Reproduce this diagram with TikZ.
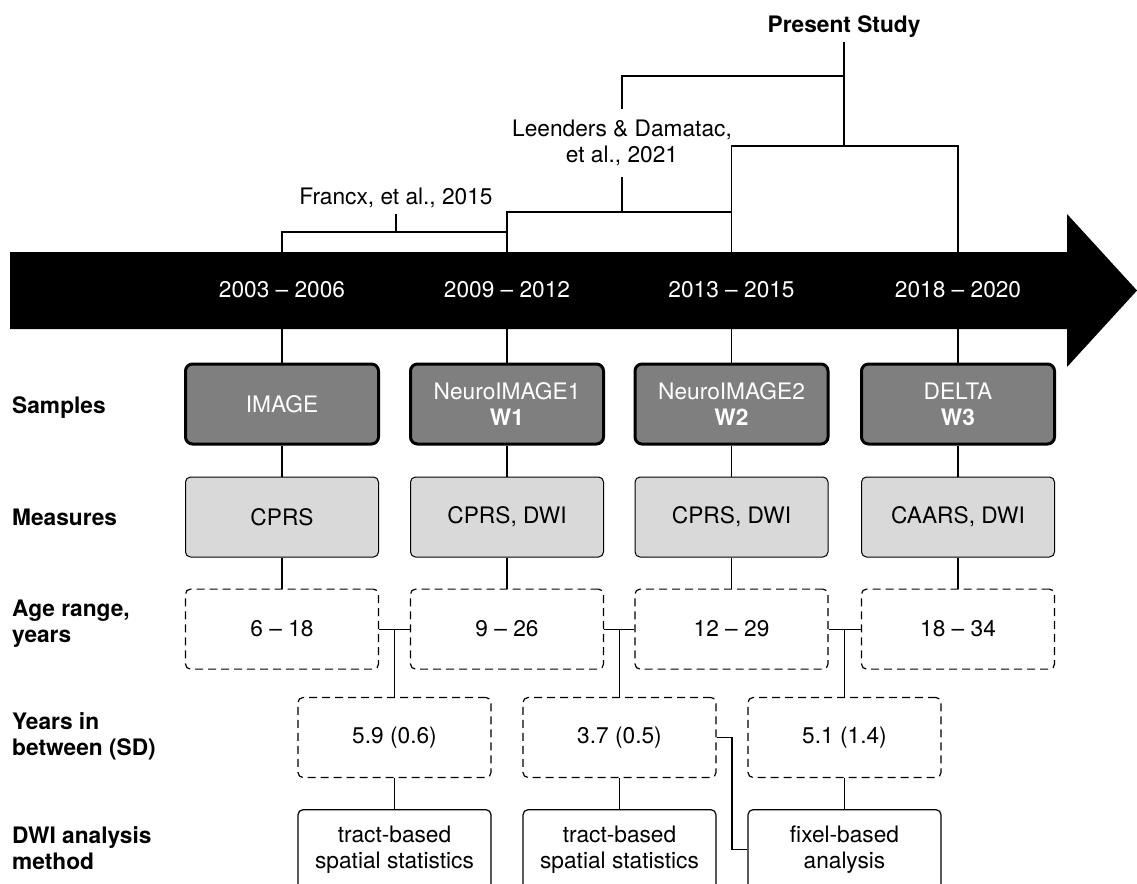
\documentclass[tikz,border=0pt]{standalone}
\usepackage{fontspec}
\setmainfont{TeX Gyre Heros}
\usepackage{xcolor}
\usepackage{tikz}
\usetikzlibrary{positioning}

\definecolor{samplegray}{HTML}{7F7F7F}
\definecolor{measuregray}{HTML}{D9D9D9}

\begin{document}
\begin{tikzpicture}[
  x=1pt,
  y=-1pt,
  node distance=31pt,
  font=\fontsize{22.7}{26}\selectfont,
  box/.style={
    minimum width=193pt,
    minimum height=80pt,
    rounded corners=5pt,
    inner sep=0pt,
    align=center
  },
  sample/.style={
    box,
    draw,
    line width=3pt,
    rounded corners=7pt,
    fill=samplegray,
    text=white
  },
  measure/.style={box, draw, line width=1pt, fill=measuregray},
  agebox/.style={box, draw, line width=1.2pt, dash pattern=on 8pt off 5pt, fill=white},
  method/.style={box, draw, line width=1.2pt, fill=white},
  rowlabel/.style={
    anchor=west,
    align=left,
    inner sep=0pt,
    font=\fontsize{22.7}{26}\selectfont\bfseries
  },
  datelbl/.style={text=white},
  reflbl/.style={align=center},
  conn/.style={line width=1.2pt}
]

\useasboundingbox (0,0) rectangle (1137,883);

% Samples
\node [sample] (s1) at (282,404) {IMAGE};
\node [sample] (s2) at (507,404) {NeuroIMAGE1\\\textbf{W1}};
\node [sample] (s3) at (731.5,404) {NeuroIMAGE2\\\textbf{W2}};
\node [sample] (s4) at (958,404) {DELTA\\\textbf{W3}};

% Measures
\node [measure, below=of s1] (m1) {CPRS};
\node [measure, below=of s2] (m2) {CPRS, DWI};
\node [measure, below=of s3] (m3) {CPRS, DWI};
\node [measure, below=of s4] (m4) {CAARS, DWI};

% Age ranges
\node [agebox, below=of m1] (a1) {6 – 18};
\node [agebox, below=of m2] (a2) {9 – 26};
\node [agebox, below=of m3] (a3) {12 – 29};
\node [agebox, below=of m4] (a4) {18 – 34};

% Years in between
\node [agebox] (y1) at (394.5,737.5) {5.9 (0.6)};
\node [agebox] (y2) at (619.5,737.5) {3.7 (0.5)};
\node [agebox] (y3) at (844.5,737.5) {5.1 (1.4)};

% DWI methods
\node [method, below=of y1] (w1) {tract-based\\spatial statistics};
\node [method, below=of y2] (w2) {tract-based\\spatial statistics};
\node [method, below=of y3] (w3) {fixel-based\\analysis};

% Row labels
\node [rowlabel] (lsamples) at (12,408) {Samples};
\node [rowlabel] (lmeasures) at (12,517) {Measures};
\node [rowlabel] (lage) at (12,624) {Age range,\\years};
\node [rowlabel] (lyears) at (12,736) {Years in\\between (SD)};
\node [rowlabel] (lmethod) at (12,848) {DWI analysis\\method};

% Studies on top
\node [reflbl, anchor=south, inner sep=6pt] (francx) at (396,214) {Francx, et al., 2015};
\node [reflbl, inner sep=11pt] (leenders) at (622,143) {Leenders \& Damatac,\\et al., 2021};
\node [reflbl, anchor=south, inner sep=4pt, font=\fontsize{22.7}{26}\selectfont\bfseries] (present) at (844,42) {Present Study};

\coordinate (fb) at (396,232);
\coordinate (lb) at (622,212);
\coordinate (lp) at (844,76);
\coordinate (pb) at (844,146);
\coordinate (jog) at (732,738);

% Study brackets
\draw [conn] (francx.south) -- (fb);
\draw [conn] (s1.north) -- (s1.north |- fb) -- (s2.north |- fb);
\draw [conn] (leenders.south) -- (lb);
\draw [conn] (s2.north) -- (s2.north |- lb) -- (s3.north |- lb);
\draw [conn] (leenders.north) |- (lp);
\draw [conn] (present.south) -- (pb);
\draw [conn] (s3.north) -- (s3.north |- pb) -- (s4.north |- pb) -- (s4.north);

% Columns
\foreach \i in {1,...,4} {
  \draw [conn] (s\i) -- (m\i);
  \draw [conn] (m\i) -- (a\i);
}
\foreach \i/\j in {1/2,2/3,3/4} {
  \draw [conn] (a\i.east) -- (a\j.west);
  \draw [conn] (y\i.north) -- (y\i.north |- a\i.east);
}
\draw [conn] (y1) -- (w1);
\draw [conn] (y2) -- (w2);
\draw [conn] (y3) -- (w3);
\draw [conn] (y2.east) -| (jog |- w3.west) -- (w3.west);

% Timeline arrow
\fill (10,252) -- (1067,252) -- (1067,214) -- (1137,290.5) -- (1067,367)
  -- (1067,329) -- (10,329) -- cycle;
\node [datelbl] (d1) at (282,290) {2003 – 2006};
\node [datelbl] (d2) at (507,290) {2009 – 2012};
\node [datelbl] (d3) at (731.5,290) {2013 – 2015};
\node [datelbl] (d4) at (958,290) {2018 – 2020};

\end{tikzpicture}
\end{document}
